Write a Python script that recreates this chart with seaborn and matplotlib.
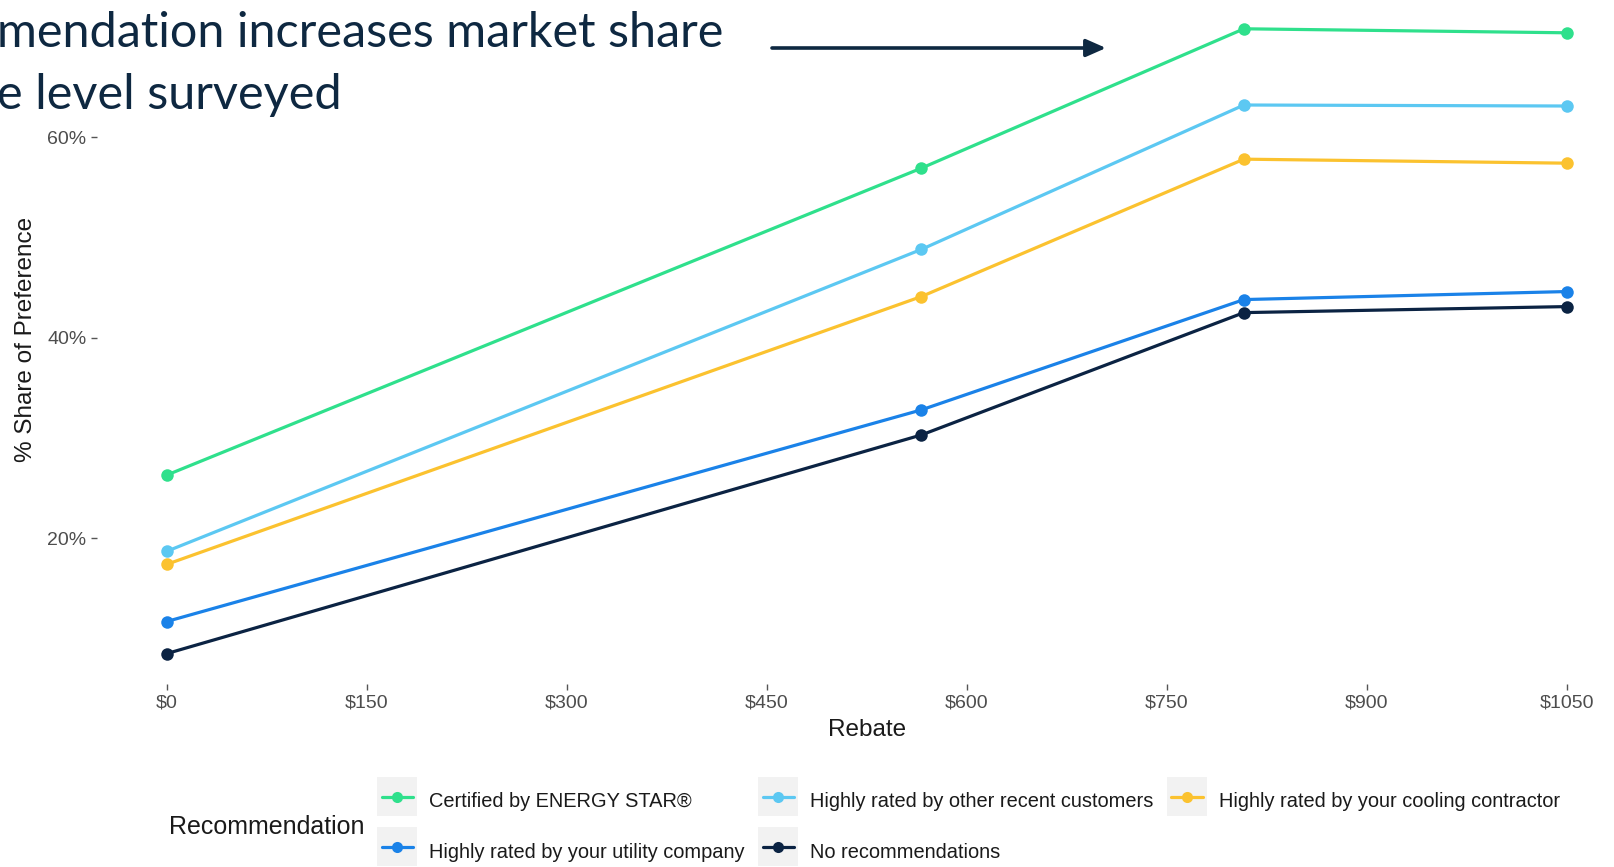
import numpy as np
import pandas as pd
import matplotlib
matplotlib.use("Agg")
import matplotlib.pyplot as plt
from matplotlib.lines import Line2D
from matplotlib.patches import Rectangle, FancyArrowPatch
from matplotlib.legend_handler import HandlerLine2D
import seaborn as sns

# ---- data -------------------------------------------------------------
rebates = [0, 566, 808, 1050]
energy_star = [26.3, 56.9, 70.8, 70.4]
recent_customers = [18.7, 48.8, 63.2, 63.1]
cooling_contractor = [17.4, 44.1, 57.8, 57.4]
utility_company = [11.7, 32.8, 43.8, 44.6]
no_recommendation = [8.5, 30.3, 42.5, 43.1]

series_names = [
    "Certified by ENERGY STAR\u00ae",
    "Highly rated by other recent customers",
    "Highly rated by your cooling contractor",
    "Highly rated by your utility company",
    "No recommendations",
]
series_values = [energy_star, recent_customers, cooling_contractor,
                 utility_company, no_recommendation]
series_colors = ["#2fe08c", "#5cc8f2", "#fbc22f", "#1a82e8", "#0b2343"]

x_ticks = [0, 150, 300, 450, 600, 750, 900, 1050]
y_ticks = [20, 40, 60]

title_lines = ["mendation increases market share", "e level surveyed"]

rows = []
for name, vals in zip(series_names, series_values):
    for r, v in zip(rebates, vals):
        rows.append({"Rebate": r, "Share": v, "Recommendation": name})
df = pd.DataFrame(rows)
palette = dict(zip(series_names, series_colors))

# ---- figure -----------------------------------------------------------
sns.set_theme(style="white")
plt.rcParams["font.family"] = ["Liberation Sans", "DejaVu Sans"]

W, H = 1614, 867
fig = plt.figure(figsize=(W / 100, H / 100), dpi=100)
fig.patch.set_facecolor("white")

ax = fig.add_axes([96.7 / W, 0.2105, 1539.9 / W, 0.7895])
ax.set_facecolor("white")

sns.lineplot(data=df, x="Rebate", y="Share", hue="Recommendation",
             hue_order=series_names, palette=palette, ax=ax,
             linewidth=2.3, marker="o", markersize=9, markeredgewidth=0,
             legend=False)

ax.set_xlim(-52.5, 1102.5)
ax.set_ylim(5.42, 73.67)
ax.set_xticks(x_ticks)
ax.set_xticklabels([f"${t}" for t in x_ticks])
ax.set_yticks(y_ticks)
ax.set_yticklabels([f"{t}%" for t in y_ticks])
for s in ax.spines.values():
    s.set_visible(False)
ax.grid(False)
ax.tick_params(axis="both", which="major", length=4.5, width=1.0,
               color="#555555", labelcolor="#4d4d4d", labelsize=14, pad=3,
               left=True, bottom=True)

ax.set_xlabel("Rebate", fontsize=17.5, color="#1a1a1a")
ax.set_ylabel("% Share of Preference", fontsize=17.5, color="#1a1a1a")
ax.xaxis.set_label_coords(0.5, -0.0665)
ax.xaxis.label.set_va("center")
ax.yaxis.set_label_coords(-0.0461, 0.504)
ax.yaxis.label.set_va("center")


# ---- legend (keys on a light grey tile, filled row by row) -----------
class TileHandler(HandlerLine2D):
    def create_artists(self, legend, orig_handle, xdescent, ydescent,
                       width, height, fontsize, trans):
        arts = super().create_artists(legend, orig_handle, xdescent, ydescent,
                                      width, height, fontsize, trans)
        tile = Rectangle((-xdescent, -ydescent), width, height + ydescent,
                         facecolor="#f2f2f2", edgecolor="none",
                         transform=trans)
        x0 = -xdescent
        for a in arts:
            a.set_xdata(np.linspace(x0 + 0.12 * width, x0 + 0.9 * width, 3))
        return [tile] + arts


handles = [Line2D([], [], color=c, lw=2.3, marker="o", markersize=8,
                  markeredgewidth=0) for c in series_colors]
order = [0, 3, 1, 4, 2]  # column-major fill so entries read row by row
leg = fig.legend([handles[i] for i in order], [series_names[i] for i in order],
                 loc="center left", bbox_to_anchor=(377 / W, 1 - 826 / H),
                 ncol=3, frameon=False, fontsize=14.4, borderpad=0,
                 borderaxespad=0, handlelength=2.0, handleheight=1.95,
                 handletextpad=0.6, columnspacing=0.67, labelspacing=1.0,
                 handler_map={Line2D: TileHandler(numpoints=1)})
for t in leg.get_texts():
    t.set_color("#1a1a1a")

fig.text(169 / W, 1 - 827 / H, "Recommendation", fontsize=18,
         color="#1a1a1a", ha="left", va="center")

# ---- headline and arrow ----------------------------------------------
navy = "#0e2841"
fig.text(-3 / W, 1 - 47 / H, title_lines[0], fontsize=35, family=["Lato"],
         color=navy, ha="left", va="baseline")
fig.text(-3 / W, 1 - 109 / H, title_lines[1], fontsize=35, family=["Lato"],
         color=navy, ha="left", va="baseline")
fig.add_artist(FancyArrowPatch(
    (772 / W, 1 - 48 / H), (1106 / W, 1 - 48 / H),
    transform=fig.transFigure, arrowstyle="-|>,head_length=12,head_width=5.3",
    color=navy, linewidth=2.6, mutation_scale=1, shrinkA=0, shrinkB=0))

fig.savefig("out.png", dpi=100, facecolor="white")
